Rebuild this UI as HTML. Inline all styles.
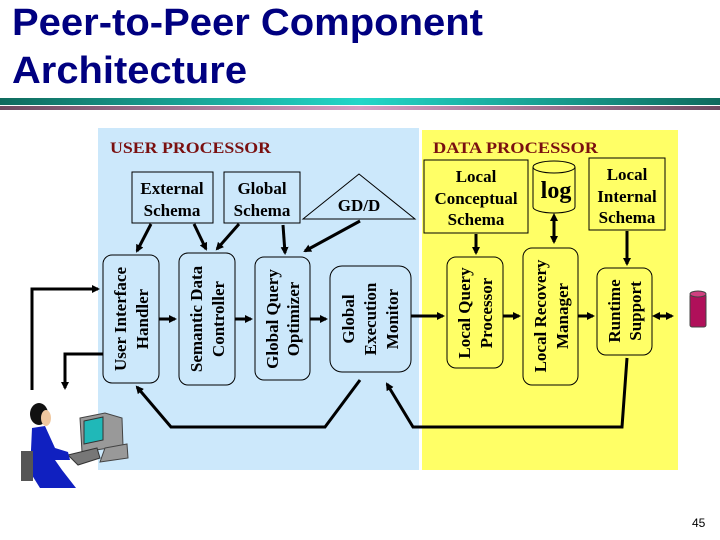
<!DOCTYPE html>
<html><head><meta charset="utf-8"><style>
html,body{margin:0;padding:0;background:#fff;}
svg{display:block;}
.t{font-family:"Liberation Serif",serif;font-weight:bold;fill:#000;}
</style></head><body>
<svg width="720" height="540" viewBox="0 0 720 540" xmlns="http://www.w3.org/2000/svg">
<defs>
<linearGradient id="g1" x1="0" x2="1"><stop offset="0" stop-color="#0f6b5e"/><stop offset="0.5" stop-color="#22d6c8"/><stop offset="1" stop-color="#0f6b5e"/></linearGradient>
<linearGradient id="g2" x1="0" x2="1"><stop offset="0" stop-color="#6e4a60"/><stop offset="0.5" stop-color="#d6a0c4"/><stop offset="1" stop-color="#6e4a60"/></linearGradient>
<marker id="a" markerWidth="8" markerHeight="8" refX="6" refY="4" orient="auto" markerUnits="userSpaceOnUse"><path d="M0,0 L8,4 L0,8 z" fill="#000"/></marker>
<marker id="as" markerWidth="8" markerHeight="8" refX="2" refY="4" orient="auto-start-reverse" markerUnits="userSpaceOnUse"><path d="M0,0 L8,4 L0,8 z" fill="#000"/></marker>
</defs>
<text x="12" y="35" font-family="Liberation Sans,sans-serif" font-weight="bold" font-size="38" fill="#000080" textLength="471" lengthAdjust="spacingAndGlyphs">Peer-to-Peer Component</text>
<text x="12" y="83" font-family="Liberation Sans,sans-serif" font-weight="bold" font-size="38" fill="#000080" textLength="235" lengthAdjust="spacingAndGlyphs">Architecture</text>
<rect x="0" y="98" width="720" height="7" fill="url(#g1)"/>
<rect x="0" y="106" width="720" height="4" fill="url(#g2)"/>
<rect x="98" y="128" width="321" height="342" fill="#cce8fb"/>
<rect x="422" y="130" width="256" height="340" fill="#ffff66"/>
<text x="110" y="153" class="t" font-size="16" style="fill:#7a1010" textLength="161" lengthAdjust="spacingAndGlyphs">USER PROCESSOR</text>
<text x="433" y="153" class="t" font-size="16" style="fill:#7a1010" textLength="165" lengthAdjust="spacingAndGlyphs">DATA PROCESSOR</text>
<g fill="none" stroke="#000" stroke-width="1">
<rect x="132" y="172" width="81" height="51"/>
<rect x="224" y="172" width="76" height="51"/>
<path d="M303,219 L359,174 L415,219 z"/>
<rect x="103" y="255" width="56" height="128" rx="9"/>
<rect x="179" y="253" width="56" height="132" rx="9"/>
<rect x="255" y="257" width="55" height="123" rx="9"/>
<rect x="330" y="266" width="81" height="106" rx="12"/>
<rect x="424" y="160" width="104" height="73"/>
<rect x="589" y="158" width="76" height="72"/>
<rect x="447" y="257" width="56" height="111" rx="9"/>
<rect x="523" y="248" width="55" height="137" rx="9"/>
<rect x="597" y="268" width="55" height="87" rx="9"/>
<path d="M533,167 L533,207 A21,6 0 0 0 575,207 L575,167"/>
<ellipse cx="554" cy="167" rx="21" ry="6"/>
</g>
<g class="t" font-size="17" text-anchor="middle">
<text x="172" y="194">External</text><text x="172" y="216">Schema</text>
<text x="262" y="194">Global</text><text x="262" y="216">Schema</text>
<text x="359" y="211">GD/D</text>
<text x="476" y="182">Local</text><text x="476" y="204">Conceptual</text><text x="476" y="225">Schema</text>
<text x="556" y="198" font-size="24">log</text>
<text x="627" y="180">Local</text><text x="627" y="202">Internal</text><text x="627" y="223">Schema</text>
<text transform="translate(126,319) rotate(-90)">User Interface</text>
<text transform="translate(148,319) rotate(-90)">Handler</text>
<text transform="translate(202,319) rotate(-90)">Semantic Data</text>
<text transform="translate(224,319) rotate(-90)">Controller</text>
<text transform="translate(278,319) rotate(-90)">Global Query</text>
<text transform="translate(299,319) rotate(-90)">Optimizer</text>
<text transform="translate(354,319) rotate(-90)">Global</text>
<text transform="translate(376,319) rotate(-90)">Execution</text>
<text transform="translate(398,319) rotate(-90)">Monitor</text>
<text transform="translate(470,313) rotate(-90)">Local Query</text>
<text transform="translate(492,313) rotate(-90)">Processor</text>
<text transform="translate(546,316) rotate(-90)">Local Recovery</text>
<text transform="translate(568,316) rotate(-90)">Manager</text>
<text transform="translate(620,311) rotate(-90)">Runtime</text>
<text transform="translate(641,311) rotate(-90)">Support</text>
</g>
<g stroke="#000" stroke-width="3" fill="none">
<line x1="151" y1="224" x2="137" y2="251" marker-end="url(#a)"/>
<line x1="194" y1="224" x2="206" y2="249" marker-end="url(#a)"/>
<line x1="239" y1="224" x2="217" y2="249" marker-end="url(#a)"/>
<line x1="283" y1="225" x2="285" y2="253" marker-end="url(#a)"/>
<line x1="360" y1="221" x2="305" y2="251" marker-end="url(#a)"/>
<line x1="159" y1="319" x2="175" y2="319" marker-end="url(#a)"/>
<line x1="235" y1="319" x2="251" y2="319" marker-end="url(#a)"/>
<line x1="310" y1="319" x2="326" y2="319" marker-end="url(#a)"/>
<line x1="411" y1="316" x2="443" y2="316" marker-end="url(#a)"/>
<line x1="503" y1="316" x2="519" y2="316" marker-end="url(#a)"/>
<line x1="578" y1="316" x2="593" y2="316" marker-end="url(#a)"/>
<line x1="658" y1="316" x2="672" y2="316" marker-start="url(#as)" marker-end="url(#a)"/>
<line x1="554" y1="219" x2="554" y2="242" marker-start="url(#as)" marker-end="url(#a)"/>
<line x1="476" y1="234" x2="476" y2="253" marker-end="url(#a)"/>
<line x1="627" y1="231" x2="627" y2="264" marker-end="url(#a)"/>
<path d="M32,390 L32,289 L98,289" marker-end="url(#a)"/>
<path d="M103,354 L65,354 L65,388" marker-end="url(#a)"/>
<path d="M360,380 L325,427 L171,427 L137,387" marker-end="url(#a)"/>
<path d="M627,358 L622,427 L413,427 L387,384" marker-end="url(#a)"/>
</g>
<g>
<rect x="690" y="294" width="16" height="33" rx="2" fill="#b0105a" stroke="#444"/>
<ellipse cx="698" cy="294" rx="8" ry="3" fill="#d04080" stroke="#444"/>
</g>
<g>
<path d="M80,418 L105,413 L122,418 L123,446 L82,452 z" fill="#999" stroke="#444"/>
<path d="M84,421 L103,417 L103,440 L84,444 z" fill="#20b8b8" stroke="#333"/>
<path d="M105,448 L127,444 L128,458 L100,462 z" fill="#999" stroke="#444"/>
<path d="M68,455 L97,448 L100,458 L78,465 z" fill="#777" stroke="#333"/>
<ellipse cx="39" cy="414" rx="9" ry="11" fill="#111"/>
<ellipse cx="46" cy="418" rx="5" ry="8" fill="#f0c8a0"/>
<path d="M32,428 L45,426 L55,448 L68,452 L70,460 L55,460 L62,470 L76,488 L40,488 L30,472 z" fill="#1020c0"/>
<rect x="21" y="451" width="12" height="30" fill="#555"/>
</g>
<text x="692" y="527" font-family="Liberation Sans,sans-serif" font-size="12" fill="#000">45</text>
</svg>
</body></html>
